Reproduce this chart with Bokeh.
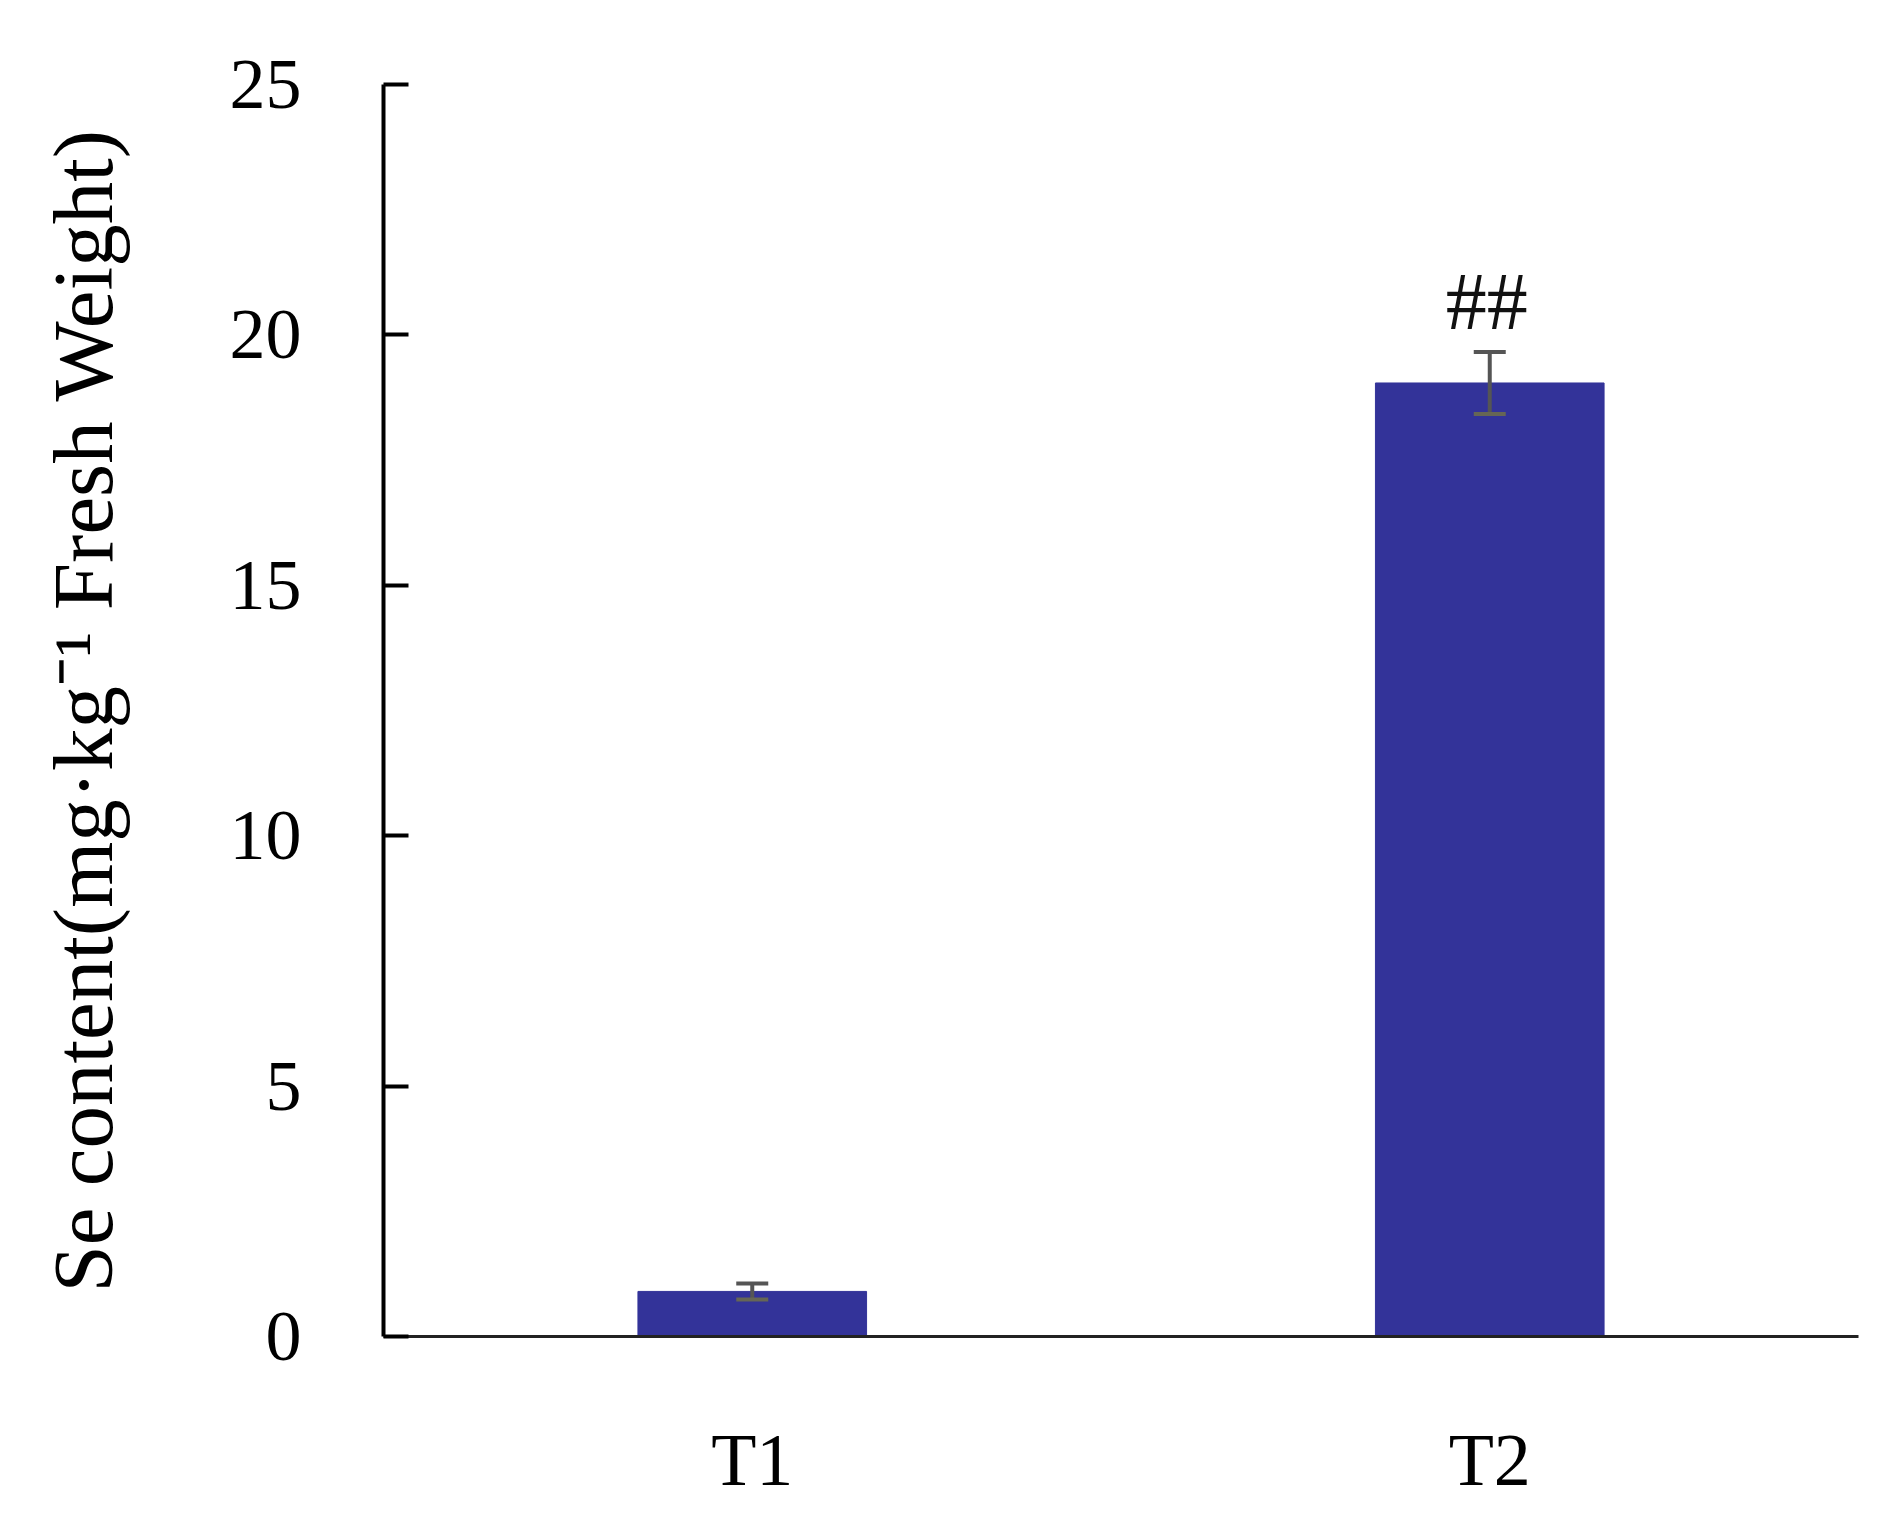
from bokeh.plotting import figure
from bokeh.models import ColumnDataSource, FactorRange, Range1d, FixedTicker, Whisker, TeeHead
from bokeh.core.properties import value
from bokeh.embed import file_html
from bokeh.resources import INLINE

categories = ["T1", "T2"]
se_content = [0.90, 19.04]
se_error = [0.16, 0.62]
significance = ["", "##"]
y_ticks = [0, 5, 10, 15, 20, 25]

lower = [v - e for v, e in zip(se_content, se_error)]
upper = [v + e for v, e in zip(se_content, se_error)]
src = ColumnDataSource(dict(cat=categories, val=se_content, lower=lower, upper=upper, sig=significance))

FONT = "Liberation Serif"

p = figure(width=1873, height=1503,
           x_range=FactorRange(factors=categories, range_padding=0),
           y_range=Range1d(0, 25),
           output_backend="svg", toolbar_location=None,
           min_border_left=383, min_border_right=15, min_border_top=84, min_border_bottom=161)

p.vbar(x="cat", top="val", width=0.31, source=src, fill_color="#333399", line_color="#333399")

whisk = Whisker(base="cat", lower="lower", upper="upper", source=src, level="overlay",
                line_color="#555555", line_width=4,
                upper_head=TeeHead(size=32, line_color="#555555", line_width=4),
                lower_head=TeeHead(size=32, line_color="#666655", line_width=4))
p.add_layout(whisk)

p.text(x="cat", y="upper", text="sig", source=src, text_font=value(FONT), text_font_size="82px",
       text_align="center", text_baseline="alphabetic", y_offset=-50, x_offset=-3, text_color="#111111")

p.grid.visible = False
p.outline_line_color = None
p.background_fill_color = "white"
p.border_fill_color = "white"

# y axis
p.yaxis.ticker = FixedTicker(ticks=y_ticks)
p.yaxis.axis_label = "Se content(mg·kg⁻¹ Fresh Weight)"
p.yaxis.axis_label_text_font = FONT
p.yaxis.axis_label_text_font_size = "85px"
p.yaxis.axis_label_text_font_style = "normal"
p.yaxis.axis_label_text_color = "#000000"
p.yaxis.axis_label_standoff = 97
p.yaxis.major_label_text_font = FONT
p.yaxis.major_label_text_font_size = "72px"
p.yaxis.major_label_text_color = "#000000"
p.yaxis.major_label_standoff = 82
p.yaxis.axis_line_color = "#000000"
p.yaxis.axis_line_width = 4
p.yaxis.major_tick_in = 25
p.yaxis.major_tick_out = 0
p.yaxis.major_tick_line_width = 4
p.yaxis.major_tick_line_color = "#000000"
p.yaxis.minor_tick_line_color = None

# x axis
p.xaxis.major_label_text_font = FONT
p.xaxis.major_label_text_font_size = "74px"
p.xaxis.major_label_text_color = "#000000"
p.xaxis.major_label_standoff = 76
p.xaxis.axis_line_color = "#222222"
p.xaxis.axis_line_width = 3
p.xaxis.major_tick_line_color = None
p.xaxis.minor_tick_line_color = None

open("out.html", "w").write(file_html(p, INLINE))
